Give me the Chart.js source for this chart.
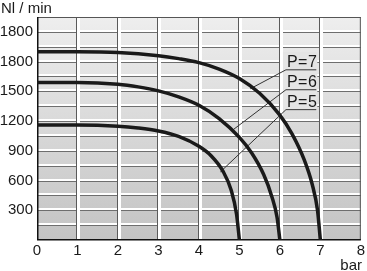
<!DOCTYPE html>
<html>
<head>
<meta charset="utf-8">
<script src="https://cdn.jsdelivr.net/npm/chart.js@4.4.1/dist/chart.umd.min.js"></script>
<style>
  html, body { margin: 0; padding: 0; background: #fff; }
  #wrap { width: 367px; height: 271px; }
</style>
</head>
<body>
<div id="wrap"><canvas id="flowChart"></canvas></div>
<script>
// axis ticks
const pressureTicks = [0, 1, 2, 3, 4, 5, 6, 7, 8];
const flowTickValues = [300, 600, 900, 1200, 1500, 1800, 2100];
const flowTickLabels = ['300', '600', '900', '1200', '1500', '1800', '1800'];

// flow curves (bar -> Nl/min)
const p7Bar  = [0, 1, 2, 3, 3.5, 4, 4.5, 5, 5.5, 6, 6.3, 6.6, 6.8, 6.93, 7];
const p7Flow = [1900, 1900, 1893, 1860, 1830, 1790, 1725, 1630, 1480, 1260, 1070, 810, 560, 300, 0];
const p6Bar  = [0, 1, 2, 2.5, 3, 3.5, 4, 4.5, 5, 5.3, 5.6, 5.8, 5.93, 6];
const p6Flow = [1590, 1590, 1572, 1545, 1505, 1445, 1360, 1225, 1035, 880, 660, 440, 230, 0];
const p5Bar  = [0, 1, 2, 2.5, 3, 3.5, 4, 4.3, 4.6, 4.8, 4.93, 5];
const p5Flow = [1160, 1160, 1148, 1130, 1100, 1045, 945, 850, 690, 500, 260, 0];

// curve labels and their leader lines
const labelNames = ['P=7', 'P=6', 'P=5'];
const labelBarFrom = [6.9, 6.9, 6.9];
const labelBarTo = [6.15, 6.15, 6.15];
const labelFlow = [1717, 1516, 1315];
const leaderBar = [5.27, 4.85, 4.53];
const leaderFlow = [1526, 1114, 687];

const FONT = "'Liberation Sans', Arial, sans-serif";

function toPoints(xs, ys) {
    return xs.map((x, i) => ({ x: x, y: ys[i] }));
}

function curve(xs, ys) {
    return {
        data: toPoints(xs, ys),
        showLine: true,
        borderColor: '#1a1a1a',
        borderWidth: 3.5,
        pointRadius: 0,
        cubicInterpolationMode: 'monotone',
        borderCapStyle: 'butt'
    };
}

const leaders = labelNames.map((name, i) => ({
    data: [
        { x: labelBarFrom[i], y: labelFlow[i] },
        { x: labelBarTo[i], y: labelFlow[i] },
        { x: leaderBar[i], y: leaderFlow[i] }
    ],
    showLine: true,
    borderColor: '#333',
    borderWidth: 1,
    pointRadius: 0,
    tension: 0
}));

const panel = {
    id: 'panel',
    beforeDatasetsDraw(chart) {
        const { ctx, chartArea: a, scales: { x, y } } = chart;
        ctx.save();
        const g = ctx.createLinearGradient(0, a.top, 0, a.bottom);
        g.addColorStop(0, '#eeeeee');
        g.addColorStop(1, '#c3c3c3');
        ctx.fillStyle = g;
        ctx.fillRect(a.left, a.top, a.width, a.height);

        // horizontal grid: white line with a dark line under it
        y.ticks.forEach(t => {
            if (t.value <= 0 || t.value >= y.max) return;
            const p = Math.round(y.getPixelForValue(t.value));
            ctx.fillStyle = '#ffffff';
            ctx.fillRect(a.left, p - 2, a.width, 2);
            ctx.fillStyle = '#6e6e6e';
            ctx.fillRect(a.left, p, a.width, 1);
        });
        // vertical grid: dark edge then white
        x.ticks.forEach(t => {
            if (t.value <= 0 || t.value >= x.max) return;
            const p = Math.round(x.getPixelForValue(t.value));
            ctx.fillStyle = '#5a5a5a';
            ctx.fillRect(p - 1, a.top, 1, a.height);
            ctx.fillStyle = '#ffffff';
            ctx.fillRect(p, a.top, 3, a.height);
        });

        // light box behind curve labels
        const bx0 = x.getPixelForValue(labelBarTo[0]) - 3;
        const bx1 = x.getPixelForValue(labelBarFrom[0]) + 1;
        const by0 = y.getPixelForValue(labelFlow[0]) - 18;
        const by1 = y.getPixelForValue(labelFlow[labelFlow.length - 1]) + 1;
        ctx.fillStyle = '#e4e4e4';
        ctx.fillRect(bx0, by0, bx1 - bx0, by1 - by0);

        // frame
        ctx.fillStyle = '#555';
        ctx.fillRect(a.left, a.top, a.width, 1);
        ctx.fillRect(a.right - 1, a.top, 1, a.height);
        ctx.fillStyle = '#111';
        ctx.fillRect(a.left, a.top, 1.5, a.height);
        ctx.fillRect(a.left, a.bottom - 1, a.width, 1.5);
        ctx.restore();
    },
    afterDraw(chart) {
        const { ctx, scales: { x, y } } = chart;
        ctx.save();
        ctx.fillStyle = '#1a1a1a';
        ctx.textBaseline = 'alphabetic';
        ctx.font = '16px ' + FONT;
        ctx.letterSpacing = '0.5px';
        labelNames.forEach((name, i) => {
            ctx.textAlign = 'left';
            ctx.fillText(name, x.getPixelForValue(labelBarTo[i]) + 1, y.getPixelForValue(labelFlow[i]) - 3);
        });
        ctx.letterSpacing = '0px';
        ctx.font = '15px ' + FONT;
        ctx.textAlign = 'left';
        ctx.fillText('Nl / min', 1, 13);
        ctx.textAlign = 'right';
        ctx.fillText('bar', 362, 270);
        ctx.restore();
    }
};

new Chart(document.getElementById('flowChart'), {
    type: 'scatter',
    data: {
        datasets: [
            curve(p7Bar, p7Flow),
            curve(p6Bar, p6Flow),
            curve(p5Bar, p5Flow)
        ].concat(leaders)
    },
    options: {
        responsive: true,
        maintainAspectRatio: false,
        animation: false,
        layout: { padding: { top: 17, right: 4, left: 0, bottom: 0 } },
        plugins: {
            legend: { display: false },
            tooltip: { enabled: false }
        },
        scales: {
            x: {
                type: 'linear',
                min: 0,
                max: 8,
                grid: { display: false, drawTicks: false },
                border: { display: false },
                ticks: {
                    stepSize: 1,
                    padding: 2,
                    color: '#1a1a1a',
                    font: { family: FONT, size: 15 },
                    callback: v => pressureTicks.includes(v) ? String(v) : ''
                },
                afterFit: s => { s.height = 31; }
            },
            y: {
                type: 'linear',
                min: 0,
                max: 2250,
                grid: { display: false, drawTicks: false },
                border: { display: false },
                ticks: {
                    stepSize: 150,
                    autoSkip: false,
                    padding: 4,
                    color: '#1a1a1a',
                    font: { family: FONT, size: 15 },
                    callback: v => {
                        const i = flowTickValues.indexOf(v);
                        return i >= 0 ? flowTickLabels[i] : '';
                    }
                },
                afterFit: s => { s.width = 37; }
            }
        }
    },
    plugins: [panel]
});
</script>
</body>
</html>
